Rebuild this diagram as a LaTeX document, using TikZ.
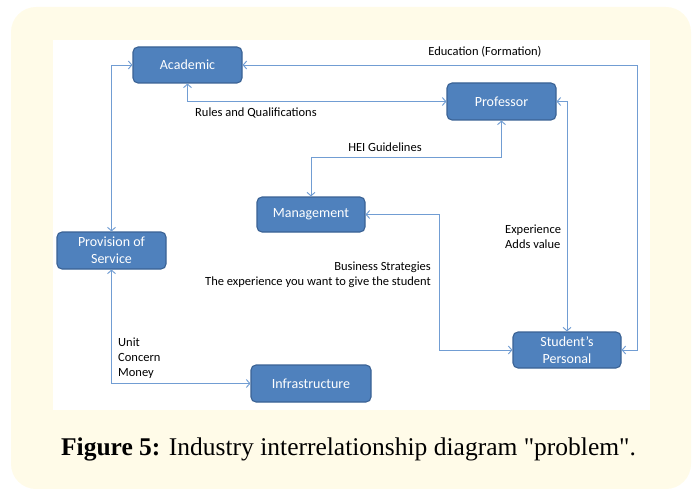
\documentclass[tikz,border=0pt]{standalone}
\usepackage{fontspec}
\setmainfont{Liberation Serif}[Ligatures=TeXOff]
\newfontfamily\carl{Carlito}
\usetikzlibrary{arrows.meta,calc}
\definecolor{cream}{HTML}{FFFBE8}
\definecolor{boxfill}{HTML}{4F81BD}
\definecolor{boxline}{HTML}{3A6294}
\definecolor{conn}{HTML}{719DD3}
\tikzset{
  blockbox/.style={draw=boxline, line width=1.1pt, fill=boxfill, rounded corners=5pt,
    text=white, font=\carl\fontsize{14}{17}\selectfont, align=center,
    inner sep=0pt},
  link/.style={draw=conn, line width=0.95pt, {Straight Barb[length=3.5pt,width=8pt]}-{Straight Barb[length=3.5pt,width=8pt]}},
  lbl/.style={font=\carl\fontsize{12.5}{15}\selectfont, text=black, inner sep=0pt}
}
\begin{document}
\begin{tikzpicture}[x=1pt,y=-1pt]
\useasboundingbox (0,0) rectangle (695,489);
\fill[cream, rounded corners=25pt] (11,7) rectangle (691,489);
\fill[white] (53,40) rectangle (650,410);

\node[blockbox, minimum width=109pt, minimum height=36pt] (acad) at (187.5,65) {Academic};
\node[blockbox, minimum width=109pt, minimum height=37pt] (prof) at (501.5,101.5) {Professor};
\node[blockbox, minimum width=108pt, minimum height=35pt] (mgmt) at (311,214.5) {Management};
\node[blockbox, minimum width=109pt, minimum height=37pt] (prov) at (111.5,250.5) {Provision of\\Service};
\node[blockbox, minimum width=120pt, minimum height=37pt] (infra) at (311,383.5) {Infrastructure};
\node[blockbox, minimum width=108pt, minimum height=36pt] (stud) at (567,350) {Student’s\\Personal};

\coordinate (edR) at (637,65);
\draw[link] (prov.north) |- (acad.west);
\draw[link] (acad.south) |- (prof.west);
\draw[link] (prof.south) -- ++(0,37) -| (mgmt.north);
\draw[link] (prof.east) -| (stud.north);
\draw[link] (mgmt.east) -- ++(74,0) |- (stud.west);
\draw[link] (acad.east) -- (edR) |- (stud.east);
\draw[link] (prov.south) |- (infra.west);

\node[lbl] (led) at (485,52) {Education (Formation)};
\node[lbl, anchor=west] (lrq) at (195,113) {Rules and Qualifications};
\node[lbl] (lhei) at (385,147) {HEI Guidelines};
\node[lbl, anchor=west, align=left] (lexp) at (505,236.5) {Experience\\Adds value};
\node[lbl, anchor=east, align=right] (lbs) at (431,274.5) {Business Strategies\\The experience you want to give the student};
\node[lbl, anchor=west, align=left] (lucm) at (118,358) {Unit\\Concern\\Money};

\node[anchor=base, font=\fontsize{25.5}{30}\selectfont] (cap) at (348.5,455) {\textbf{Figure 5:} Industry interrelationship diagram "problem".};
\end{tikzpicture}
\end{document}
